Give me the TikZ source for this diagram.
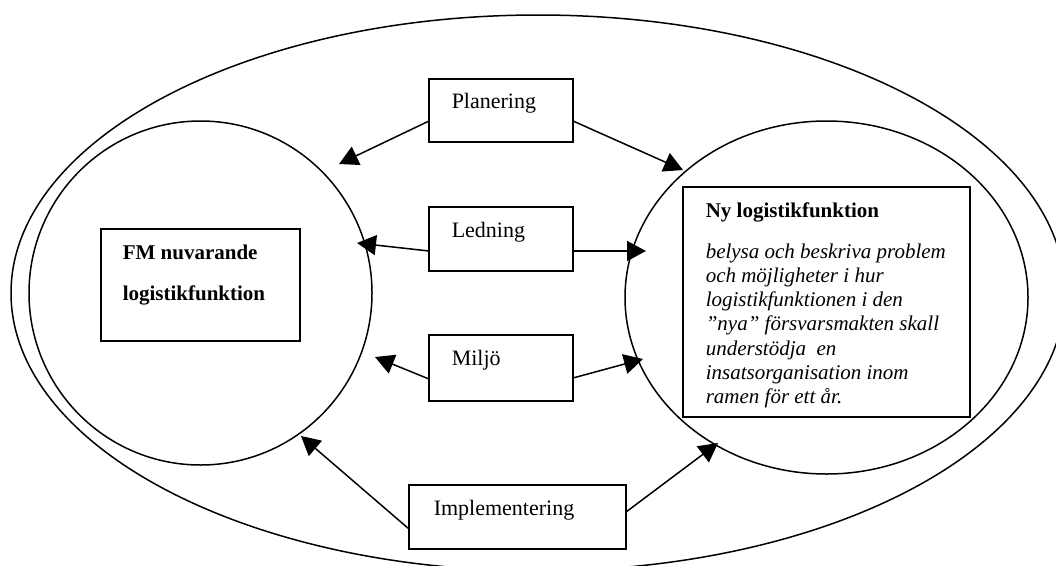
\documentclass[tikz,border=0pt]{standalone}
\usepackage{fontspec}
\setmainfont{Liberation Serif}
\usetikzlibrary{arrows.meta,shapes.geometric}
\begin{document}
\begin{tikzpicture}[x=1pt,y=-1pt,
  line width=1.5pt,
  oval/.style={draw,ellipse,inner sep=0pt,outer sep=0pt},
  box/.style={draw,rectangle,anchor=north west,inner sep=0pt,outer sep=0pt},
  lbl/.style={anchor=base west,inner sep=0pt,font=\fontsize{22}{26}\selectfont},
  arr/.style={-{Triangle[length=19pt,width=20pt]},line width=1.5pt}]
\useasboundingbox (0,0) rectangle (1056,565);
% ellipses
\node[oval,minimum width=1054pt,minimum height=556pt] (outer) at (538,293) {};
\node[oval,minimum width=343pt,minimum height=344pt] (leftov) at (200.5,293) {};
\node[oval,minimum width=403pt,minimum height=353pt] (rightov) at (826.5,297.5) {};
% boxes
\node[box,minimum width=144pt,minimum height=63pt] (plan) at (429,79) {};
\node[box,minimum width=144pt,minimum height=64pt] (led) at (429,207) {};
\node[box,minimum width=144pt,minimum height=66pt] (mil) at (429,335) {};
\node[box,minimum width=217pt,minimum height=64pt] (impl) at (409,485) {};
\node[box,minimum width=199pt,minimum height=112pt] (fm) at (101,229) {};
\node[box,minimum width=287pt,minimum height=230pt] (ny) at (683,187) {};
% labels
\node[lbl] (plant) at (451,108) {Planering};
\node[lbl] (ledt) at (451,237) {Ledning};
\node[lbl] (milt) at (451,365) {Miljö};
\node[lbl] (implt) at (433,515) {Implementering};
\node[lbl,font=\fontsize{21}{25}\selectfont\bfseries] (fmt1) at (122,259) {FM nuvarande};
\node[lbl,font=\fontsize{21}{25}\selectfont\bfseries] (fmt2) at (122,300) {logistikfunktion};
\node[lbl,font=\fontsize{21}{25}\selectfont\bfseries] (nyt) at (705,217) {Ny logistikfunktion};
\node[anchor=north west,inner sep=0pt,align=left,
      font=\fontsize{21}{24.2}\selectfont\itshape] (nyb) at (705,243) {belysa och beskriva problem\\
och möjligheter i hur\\
logistikfunktionen i den\\
”nya” försvarsmakten skall\\
understödja~ en\\
insatsorganisation inom\\
ramen för ett år.};
% arrow tips
\coordinate (t1) at (339,164);
\coordinate (t2) at (683,170);
\coordinate (t3) at (357,243);
\coordinate (t4) at (646,251);
\coordinate (t5) at (375,357);
\coordinate (t6) at (643,359);
\coordinate (t7) at (301,436);
\coordinate (t8) at (718,443);
% connectors
\draw[arr] ([yshift=-10.5pt]plan.west) -- (t1);
\draw[arr] ([yshift=-10.5pt]plan.east) -- (t2);
\draw[arr] ([yshift=-12pt]led.west) -- (t3);
\draw[arr] ([yshift=-12pt]led.east) -- (t4);
\draw[arr] ([yshift=-11pt]mil.west) -- (t5);
\draw[arr] ([yshift=-10pt]mil.east) -- (t6);
\draw[arr] ([yshift=-12pt]impl.west) -- (t7);
\draw[arr] ([yshift=5pt]impl.east) -- (t8);
\end{tikzpicture}
\end{document}
